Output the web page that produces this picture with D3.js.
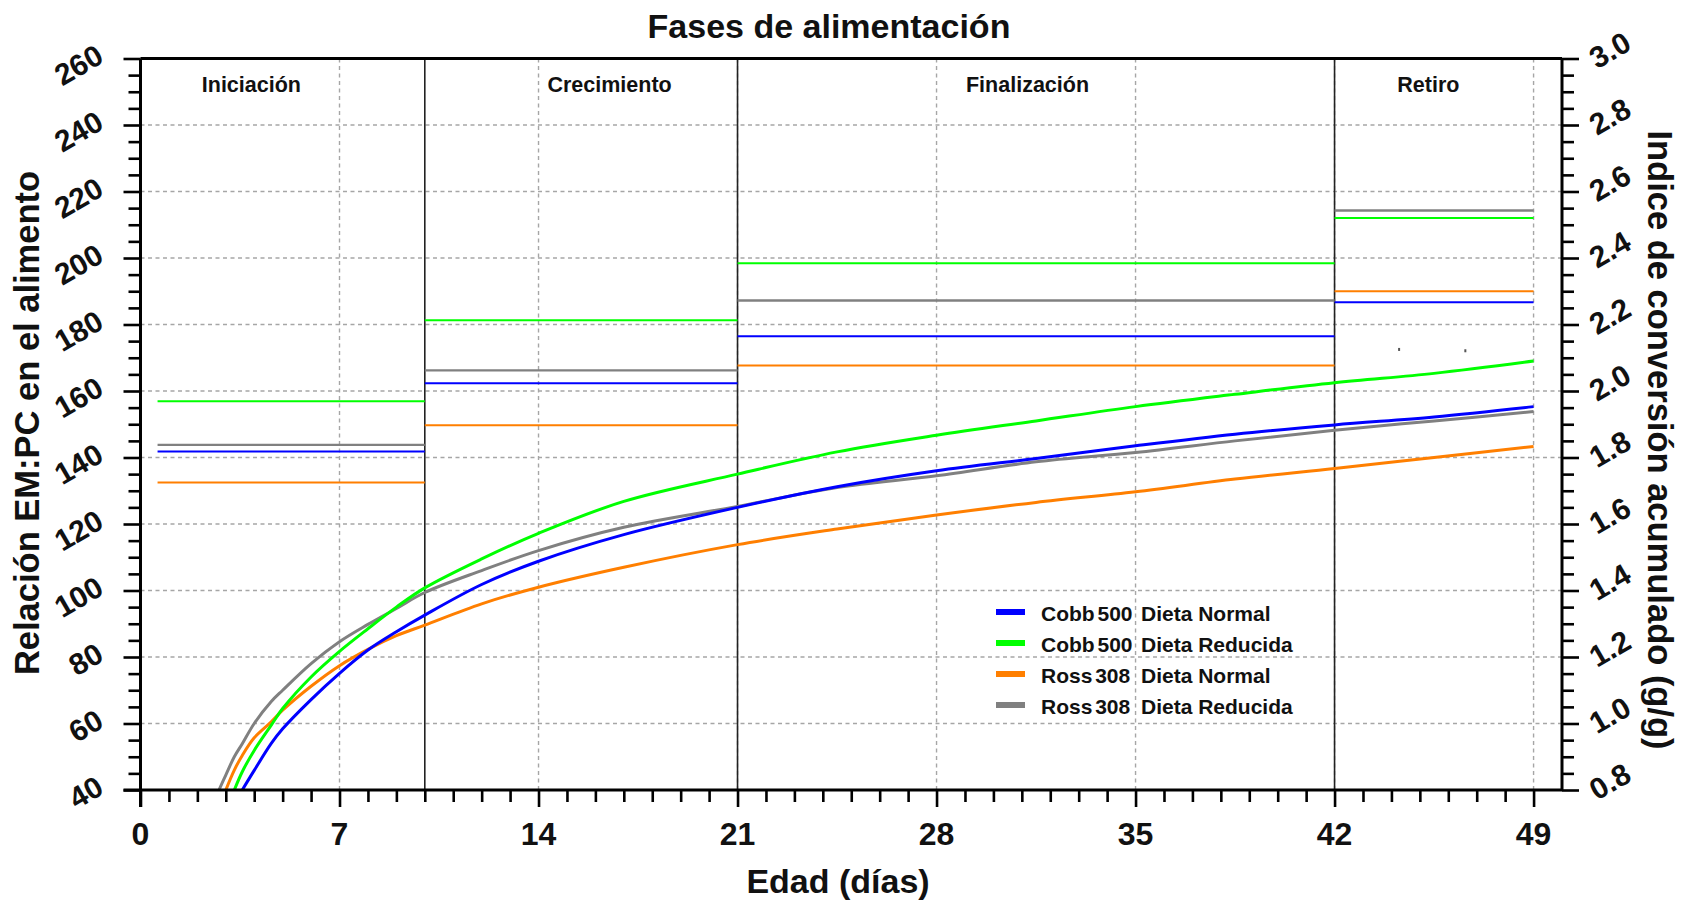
<!DOCTYPE html>
<html><head><meta charset="utf-8">
<script src="https://cdn.jsdelivr.net/npm/d3@7"></script>
<style>
body{margin:0;background:#fff}
svg{display:block}
text{font-family:"Liberation Sans",Arial,Helvetica,sans-serif;font-weight:bold;fill:#111}
</style>
</head><body>
<svg id="c" width="1681" height="904"></svg>
<script>
// ---------- data ----------
const xTicks = [0, 7, 14, 21, 28, 35, 42, 49];
const yLeftTicks = [40, 60, 80, 100, 120, 140, 160, 180, 200, 220, 240, 260];
const yRightTicks = [0.8, 1.0, 1.2, 1.4, 1.6, 1.8, 2.0, 2.2, 2.4, 2.6, 2.8, 3.0];

const phases = ["Iniciación", "Crecimiento", "Finalización", "Retiro"];
const phaseStart = [0.6, 10, 21, 42];
const phaseEnd = [10, 21, 42, 49];
const phaseLabelDay = [3.9, 16.5, 31.2, 45.3];

const breeds = ["Cobb 500", "Cobb 500", "Ross 308", "Ross 308"];
const diets = ["Dieta Normal", "Dieta Reducida", "Dieta Normal", "Dieta Reducida"];
const colors = ["#0000ff", "#00ff00", "#ff7f00", "#808080"];

// EM:PC ratio in the feed per phase (left axis)
const emCobbNormal   = [141.8, 162.3, 176.5, 186.7];
const emCobbReducida = [156.9, 181.3, 198.4, 212.0];
const emRossNormal   = [132.5, 149.7, 167.7, 190.0];
const emRossReducida = [143.8, 166.2, 187.2, 214.3];

// cumulative feed conversion (right axis)
const curveDays = [2.76, 3.0, 3.3, 3.58, 4, 4.6, 5, 6, 7, 8, 9, 10, 12, 14, 17, 21, 24.5, 28, 31.5, 35, 38.5, 42, 45.5, 49];
const fcrCobbNormal   = [null, null, null, 0.80, 0.859, 0.940, 0.984, 1.072, 1.151, 1.221, 1.276, 1.326, 1.418, 1.488, 1.568, 1.650, 1.712, 1.760, 1.797, 1.835, 1.870, 1.898, 1.922, 1.953];
const fcrCobbReducida = [null, null, 0.80, 0.855, 0.919, 0.995, 1.045, 1.140, 1.217, 1.285, 1.350, 1.408, 1.495, 1.572, 1.668, 1.750, 1.817, 1.867, 1.910, 1.953, 1.990, 2.025, 2.053, 2.090];
const fcrRossNormal   = [null, 0.80, 0.860, 0.904, 0.957, 1.005, 1.040, 1.112, 1.174, 1.223, 1.264, 1.296, 1.360, 1.410, 1.470, 1.538, 1.585, 1.627, 1.665, 1.697, 1.735, 1.767, 1.800, 1.833];
const fcrRossReducida = [0.80, 0.845, 0.900, 0.939, 1.000, 1.066, 1.100, 1.180, 1.246, 1.298, 1.346, 1.394, 1.460, 1.520, 1.590, 1.653, 1.710, 1.745, 1.787, 1.815, 1.850, 1.882, 1.910, 1.938];

const strayDays = [44.27, 46.6];
const strayEm = [172.5, 172.1];

const emSeries = [emCobbNormal, emCobbReducida, emRossNormal, emRossReducida];
const fcrSeries = [fcrCobbNormal, fcrCobbReducida, fcrRossNormal, fcrRossReducida];

// ---------- layout ----------
const X0 = 140.5, X1 = 1562, Y0 = 790, Y1 = 58.5;
const svg = d3.select("#c");
const x = d3.scaleLinear().domain([0, 50]).range([X0, X1]);
const yL = d3.scaleLinear().domain([40, 260]).range([Y0, Y1]);
const yR = d3.scaleLinear().domain([0.8, 3.0]).range([Y0, Y1]);

svg.append("defs").append("clipPath").attr("id", "plotclip")
  .append("rect").attr("x", X0).attr("y", Y1).attr("width", X1 - X0).attr("height", Y0 - Y1);

// grid
const grid = svg.append("g").attr("stroke", "#a6a6a6").attr("stroke-width", 1.4).attr("stroke-dasharray", "4,3.5");
grid.selectAll("line.v").data(xTicks.filter(d => d > 0)).join("line")
  .attr("x1", d => x(d)).attr("x2", d => x(d)).attr("y1", Y1).attr("y2", Y0);
grid.selectAll("line.h").data(yLeftTicks.filter(d => d > 40 && d < 260)).join("line")
  .attr("x1", X0).attr("x2", X1).attr("y1", d => yL(d)).attr("y2", d => yL(d));

// phase boundaries
svg.append("g").selectAll("line").data(phaseEnd.slice(0, 3)).join("line")
  .attr("x1", d => x(d)).attr("x2", d => x(d)).attr("y1", Y1).attr("y2", Y0)
  .attr("stroke", "#222").attr("stroke-width", 1.6);

// phase labels
svg.append("g").selectAll("text").data(phases).join("text")
  .attr("x", (d, i) => x(phaseLabelDay[i])).attr("y", 92)
  .attr("text-anchor", "middle").style("font-size", "21.5px").text(d => d);

// step lines (EM:PC)
const stepG = svg.append("g");
emSeries.forEach((arr, si) => {
  stepG.append("g").selectAll("line").data(arr).join("line")
    .attr("x1", (d, p) => x(phaseStart[p])).attr("x2", (d, p) => x(phaseEnd[p]))
    .attr("y1", d => yL(d)).attr("y2", d => yL(d))
    .attr("stroke", colors[si]).attr("stroke-width", si === 3 ? 2.4 : 2);
});

// stray marks
svg.append("g").selectAll("rect").data(strayDays).join("rect")
  .attr("x", d => x(d) - 1).attr("y", (d, i) => yL(strayEm[i]) - 1.5)
  .attr("width", 2).attr("height", 3).attr("fill", "#555");

// FCR curves
const line = d3.line().x(d => x(d[0])).y(d => yR(d[1])).curve(d3.curveCatmullRom.alpha(0.5));
const curveG = svg.append("g").attr("clip-path", "url(#plotclip)");
[3, 2, 1, 0].forEach(si => {
  const pts = curveDays.map((d, k) => [d, fcrSeries[si][k]]).filter(p => p[1] !== null);
  curveG.append("path").attr("d", line(pts)).attr("fill", "none")
    .attr("stroke", colors[si]).attr("stroke-width", 3).attr("stroke-linejoin", "round");
});

// axes
function styleAxis(g) {
  g.select(".domain").remove();
  g.selectAll(".tick line").attr("stroke", "#000").attr("stroke-width", 2.6);
  g.selectAll(".tick text").remove();
}
const minorX = d3.range(1, 50).filter(d => d % 7 !== 0);
svg.append("g").attr("transform", `translate(0,${Y0})`)
  .call(d3.axisBottom(x).tickValues(minorX).tickSize(12)).call(styleAxis);
svg.append("g").attr("transform", `translate(0,${Y0})`)
  .call(d3.axisBottom(x).tickValues(xTicks).tickSize(17)).call(styleAxis);

const minorL = d3.range(40, 261, 5).filter(d => d % 20 !== 0);
svg.append("g").attr("transform", `translate(${X0},0)`)
  .call(d3.axisLeft(yL).tickValues(minorL).tickSize(12)).call(styleAxis);
svg.append("g").attr("transform", `translate(${X0},0)`)
  .call(d3.axisLeft(yL).tickValues(yLeftTicks).tickSize(17)).call(styleAxis);

const minorR = d3.range(16, 61).filter(k => k % 4 !== 0).map(k => k * 0.05);
svg.append("g").attr("transform", `translate(${X1},0)`)
  .call(d3.axisRight(yR).tickValues(minorR).tickSize(12)).call(styleAxis);
svg.append("g").attr("transform", `translate(${X1},0)`)
  .call(d3.axisRight(yR).tickValues(yRightTicks).tickSize(17)).call(styleAxis);

// frame lines
const frame = svg.append("g").attr("stroke", "#000").attr("stroke-width", 3);
frame.append("line").attr("x1", X0).attr("x2", X1).attr("y1", Y1).attr("y2", Y1);
frame.append("line").attr("x1", X0 - 17).attr("x2", X1).attr("y1", Y0).attr("y2", Y0);
frame.append("line").attr("x1", X0).attr("x2", X0).attr("y1", Y1).attr("y2", Y0 + 17);
frame.append("line").attr("x1", X1).attr("x2", X1).attr("y1", Y1).attr("y2", Y0);

// tick labels
svg.append("g").selectAll("text").data(xTicks).join("text")
  .attr("x", d => x(d)).attr("y", Y0 + 55).attr("text-anchor", "middle")
  .style("font-size", "32px").text(d => d);
svg.append("g").selectAll("text").data(yLeftTicks).join("text")
  .attr("transform", d => `translate(${X0 - 35},${yL(d) + 3}) rotate(-30)`)
  .attr("text-anchor", "end").style("font-size", "30px").text(d => d);
svg.append("g").selectAll("text").data(yRightTicks).join("text")
  .attr("transform", d => `translate(${X1 + 35},${yR(d) + 11}) rotate(-30)`)
  .attr("text-anchor", "start").style("font-size", "30px").text(d => d3.format(".1f")(d));

// titles
svg.append("text").attr("x", 829).attr("y", 37.5).attr("text-anchor", "middle")
  .style("font-size", "34px").text("Fases de alimentación");
svg.append("text").attr("x", 838).attr("y", 893).attr("text-anchor", "middle")
  .style("font-size", "34px").text("Edad (días)");
svg.append("text").attr("transform", "translate(39,423) rotate(-90)").attr("text-anchor", "middle")
  .style("font-size", "34.5px").text("Relación EM:PC en el alimento");
svg.append("text").attr("transform", "translate(1648,440) rotate(90)").attr("text-anchor", "middle")
  .style("font-size", "34.5px").text("Indice de conversión acumulado (g/g)");

// legend
const leg = svg.append("g");
breeds.forEach((b, i) => {
  const cy = 612 + 31 * i;
  leg.append("rect").attr("x", 996).attr("y", cy - 3).attr("width", 29).attr("height", 6).attr("fill", colors[i]);
  leg.append("text").attr("x", 1041).attr("y", cy + 8.5).style("font-size", "21px").style("word-spacing", "-3px").text(b);
  leg.append("text").attr("x", 1141).attr("y", cy + 8.5).style("font-size", "21px").text(diets[i]);
});
</script>
</body></html>
